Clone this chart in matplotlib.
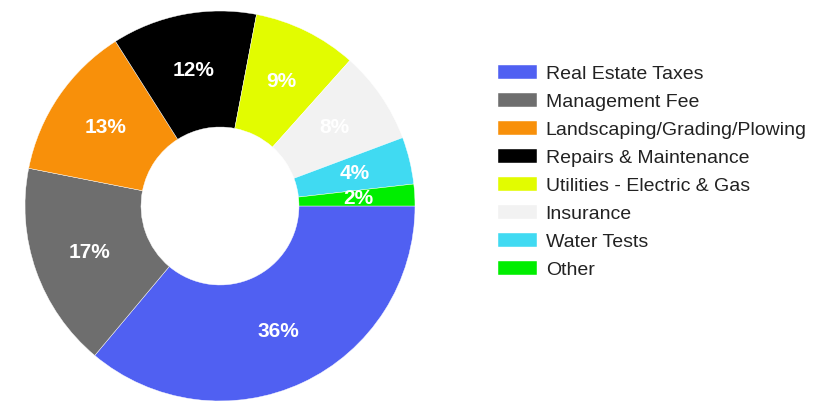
import matplotlib.pyplot as plt

# Operating expense breakdown
categories = [
    "Real Estate Taxes",
    "Management Fee",
    "Landscaping/Grading/Plowing",
    "Repairs & Maintenance",
    "Utilities - Electric & Gas",
    "Insurance",
    "Water Tests",
    "Other",
]
shares = [36.1, 17.0, 12.9, 12.0, 8.6, 7.7, 3.9, 1.8]
colors = ["#5060F2", "#6E6E6E", "#F8900A", "#000000",
          "#E2FC00", "#F2F2F2", "#40DAF2", "#00EE00"]

plt.rcParams["font.family"] = ["Liberation Sans", "DejaVu Sans"]

W, H = 818, 401
fig = plt.figure(figsize=(W / 100, H / 100), dpi=100)

# donut centred at (220, 206) px with outer radius 195 px
cx, cy, r = 220, 206, 195
ax = fig.add_axes([(cx - r) / W, (H - cy - r) / H, 2 * r / W, 2 * r / H])

wedges, texts, autotexts = ax.pie(
    shares,
    colors=colors,
    startangle=0,
    counterclock=False,
    autopct=lambda p: f"{p:.0f}%",
    pctdistance=0.71,
    wedgeprops=dict(width=0.595, edgecolor="white", linewidth=0.3),
    textprops=dict(color="white", fontsize=15, fontweight="bold"),
)
ax.set_xlim(-1, 1)
ax.set_ylim(-1, 1)
ax.set_aspect("equal")

leg = fig.legend(
    wedges, categories,
    loc="upper left",
    bbox_to_anchor=(498 / W, 1 - 65 / H),
    frameon=False,
    fontsize=14,
    handlelength=2.0,
    handleheight=0.72,
    handletextpad=0.45,
    labelspacing=0.53,
    borderpad=0,
    borderaxespad=0,
)
for t in leg.get_texts():
    t.set_color("#222222")

fig.savefig("out.png", dpi=100)
